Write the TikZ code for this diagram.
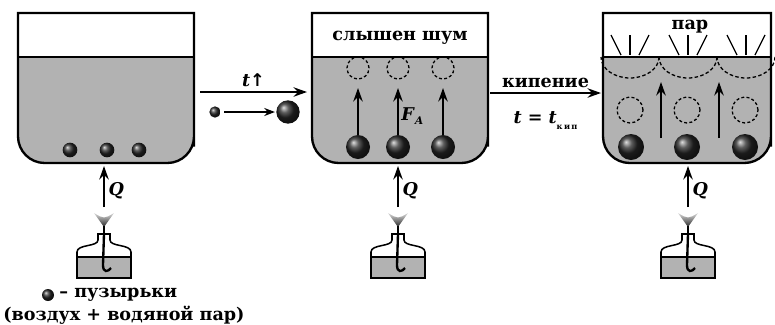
\documentclass[tikz,border=0pt]{standalone}
\usepackage{fontspec}
\setmainfont{DejaVu Serif}
\newfontfamily\arrowfont{DejaVu Sans}
\usetikzlibrary{arrows.meta}

\tikzset{
	wall/.style={line width=2pt},
	water/.style={fill=black!30},
	bubble/.style={circle, inner sep=0pt, minimum size=#1, shading=ball, ball color=black!85},
	bubble/.default=7.2mm,
	ghost/.style={circle, draw, dash pattern=on 2.5pt off 2pt, inner sep=0pt, minimum size=#1, line width=1.1pt},
	ghost/.default=6.6mm,
	lift/.style={-{Stealth[length=4mm,width=2.8mm]}, line width=1.8pt},
	txt/.style={font=\bfseries\fontsize{15}{18}\selectfont, inner sep=1pt},
}

\begin{document}
\begin{tikzpicture}[x=0.3mm, y=-0.3mm]
	\useasboundingbox (0,0) rectangle (775,324);

	% three pots with water
	\foreach \xa/\xb in {18/194, 312/488, 603/771} {
		\fill[water] (\xa,57) -- (\xa,120) [rounded corners=8mm] -- (\xa,163) -- (\xb,163) -- (\xb,120) [sharp corners] -- (\xb,57) -- cycle;
		\draw[wall] (\xa,57) -- (\xb,57);
		\draw[wall] (\xa,13) -- (\xa,120) [rounded corners=8mm] -- (\xa,163) -- (\xb,163) -- (\xb,120) [sharp corners] -- (\xb,13) -- cycle;
	}

	% first pot
	\node[bubble=4.4mm] (s1) at (70,150) {};
	\node[bubble=4.4mm] (s2) at (107,150) {};
	\node[bubble=4.4mm] (s3) at (139,150) {};

	% heating
	\coordinate (a1s) at (200,92);
	\coordinate (a1e) at (307,92);
	\path [lift] (a1s) edge node[txt, above=3pt] {\textit{t}{\arrowfont ↑}} (a1e);
	\node[bubble=3.4mm] (m1) at (215,112) {};
	\node[bubble=7mm] (m2) at (288,112) {};
	\path [-{Stealth[length=3.2mm,width=2.4mm]}, line width=1.4pt] (m1) edge[shorten <=3pt, shorten >=1pt] (m2);

	% second pot
	\node[txt] (noise) at (400,38) {слышен шум};
	\node[ghost] (g1) at (358,68) {};
	\node[ghost] (g2) at (398,68) {};
	\node[ghost] (g3) at (443,68) {};
	\node[bubble] (b1) at (358,147) {};
	\node[bubble] (b2) at (398,147) {};
	\node[bubble] (b3) at (443,147) {};
	\coordinate (t1) at (358,88);
	\coordinate (t2) at (398,88);
	\coordinate (t3) at (443,88);
	\path [lift] (b1) edge (t1);
	\path [lift] (b2) edge node[txt, right=1pt, pos=0.4] {\textit{F}\raisebox{-0.5ex}{\fontsize{9}{9}\selectfont\textit{А}}} (t2);
	\path [lift] (b3) edge (t3);

	% boiling
	\coordinate (a2s) at (490,93);
	\coordinate (a2e) at (601,93);
	\path [lift] (a2s) edge node[txt, above=3pt] {кипение}
		node[txt, below=14pt] {\textit{t} = \textit{t}\raisebox{-0.6ex}{\fontsize{7}{7}\selectfont к\,и\,п}} (a2e);

	% third pot
	\node[txt] (steam) at (690,27) {пар};
	\foreach \c in {630,688,746} {
		\draw[line width=1.1pt] (\c-19,35) -- (\c-9,55);
		\draw[line width=1.1pt] (\c,35) -- (\c,55);
		\draw[line width=1.1pt] (\c+19,35) -- (\c+9,55);
		\draw[dash pattern=on 3pt off 2pt, line width=1.1pt] (\c+29,57) arc[start angle=0, end angle=180, x radius=29, y radius=21];
	}
	\node[ghost=7.8mm] (h1) at (630,110) {};
	\node[ghost=7.8mm] (h2) at (687,110) {};
	\node[ghost=7.8mm] (h3) at (745,110) {};
	\node[bubble=7.8mm] (c1) at (631,147) {};
	\node[bubble=7.8mm] (c2) at (687,147) {};
	\node[bubble=7.8mm] (c3) at (745,147) {};
	\coordinate (u1) at (661,138);
	\coordinate (v1) at (661,82);
	\coordinate (u2) at (719,138);
	\coordinate (v2) at (719,82);
	\path [lift] (u1) edge (v1);
	\path [lift] (u2) edge (v2);

	% spirit lamps
	\foreach \c/\n in {104/1, 398/2, 688/3} {
		\coordinate (flame\n) at (\c,207);
		\coordinate (hot\n) at (\c,166);
		\path [lift] (flame\n) edge node[txt, right=2pt, pos=0.4] {\textit{Q}} (hot\n);
		\shade[top color=black!15, bottom color=black!85] (\c-10,213) .. controls (\c,219) .. (\c+10,213) -- (\c,227) -- cycle;
		\draw[line width=1.3pt] (\c,226) -- (\c,234);
		\fill[water] (\c-27,257) rectangle (\c+27,278);
		\draw[line width=1.3pt] (\c-6,234) -- (\c-6,240) .. controls (\c-6,247) and (\c-27,244) .. (\c-27,252) -- (\c-27,278) -- (\c+27,278) -- (\c+27,252) .. controls (\c+27,244) and (\c+6,247) .. (\c+6,240) -- (\c+6,234) -- cycle;
		\draw[line width=1.3pt] (\c-27,257) -- (\c+27,257);
		\draw[line width=2pt] (\c,234) -- (\c-1,265) .. controls (\c-1,273) and (\c+4,272) .. (\c+7,268);
	}

	% key
	\node[bubble=3.6mm] (key) at (48,295) {};
	\node[txt, anchor=west] (keytext) at (58,295) {– пузырьки};
	\node[txt, anchor=west] (keynote) at (2,315) {(воздух + водяной пар)};
\end{tikzpicture}
\end{document}
